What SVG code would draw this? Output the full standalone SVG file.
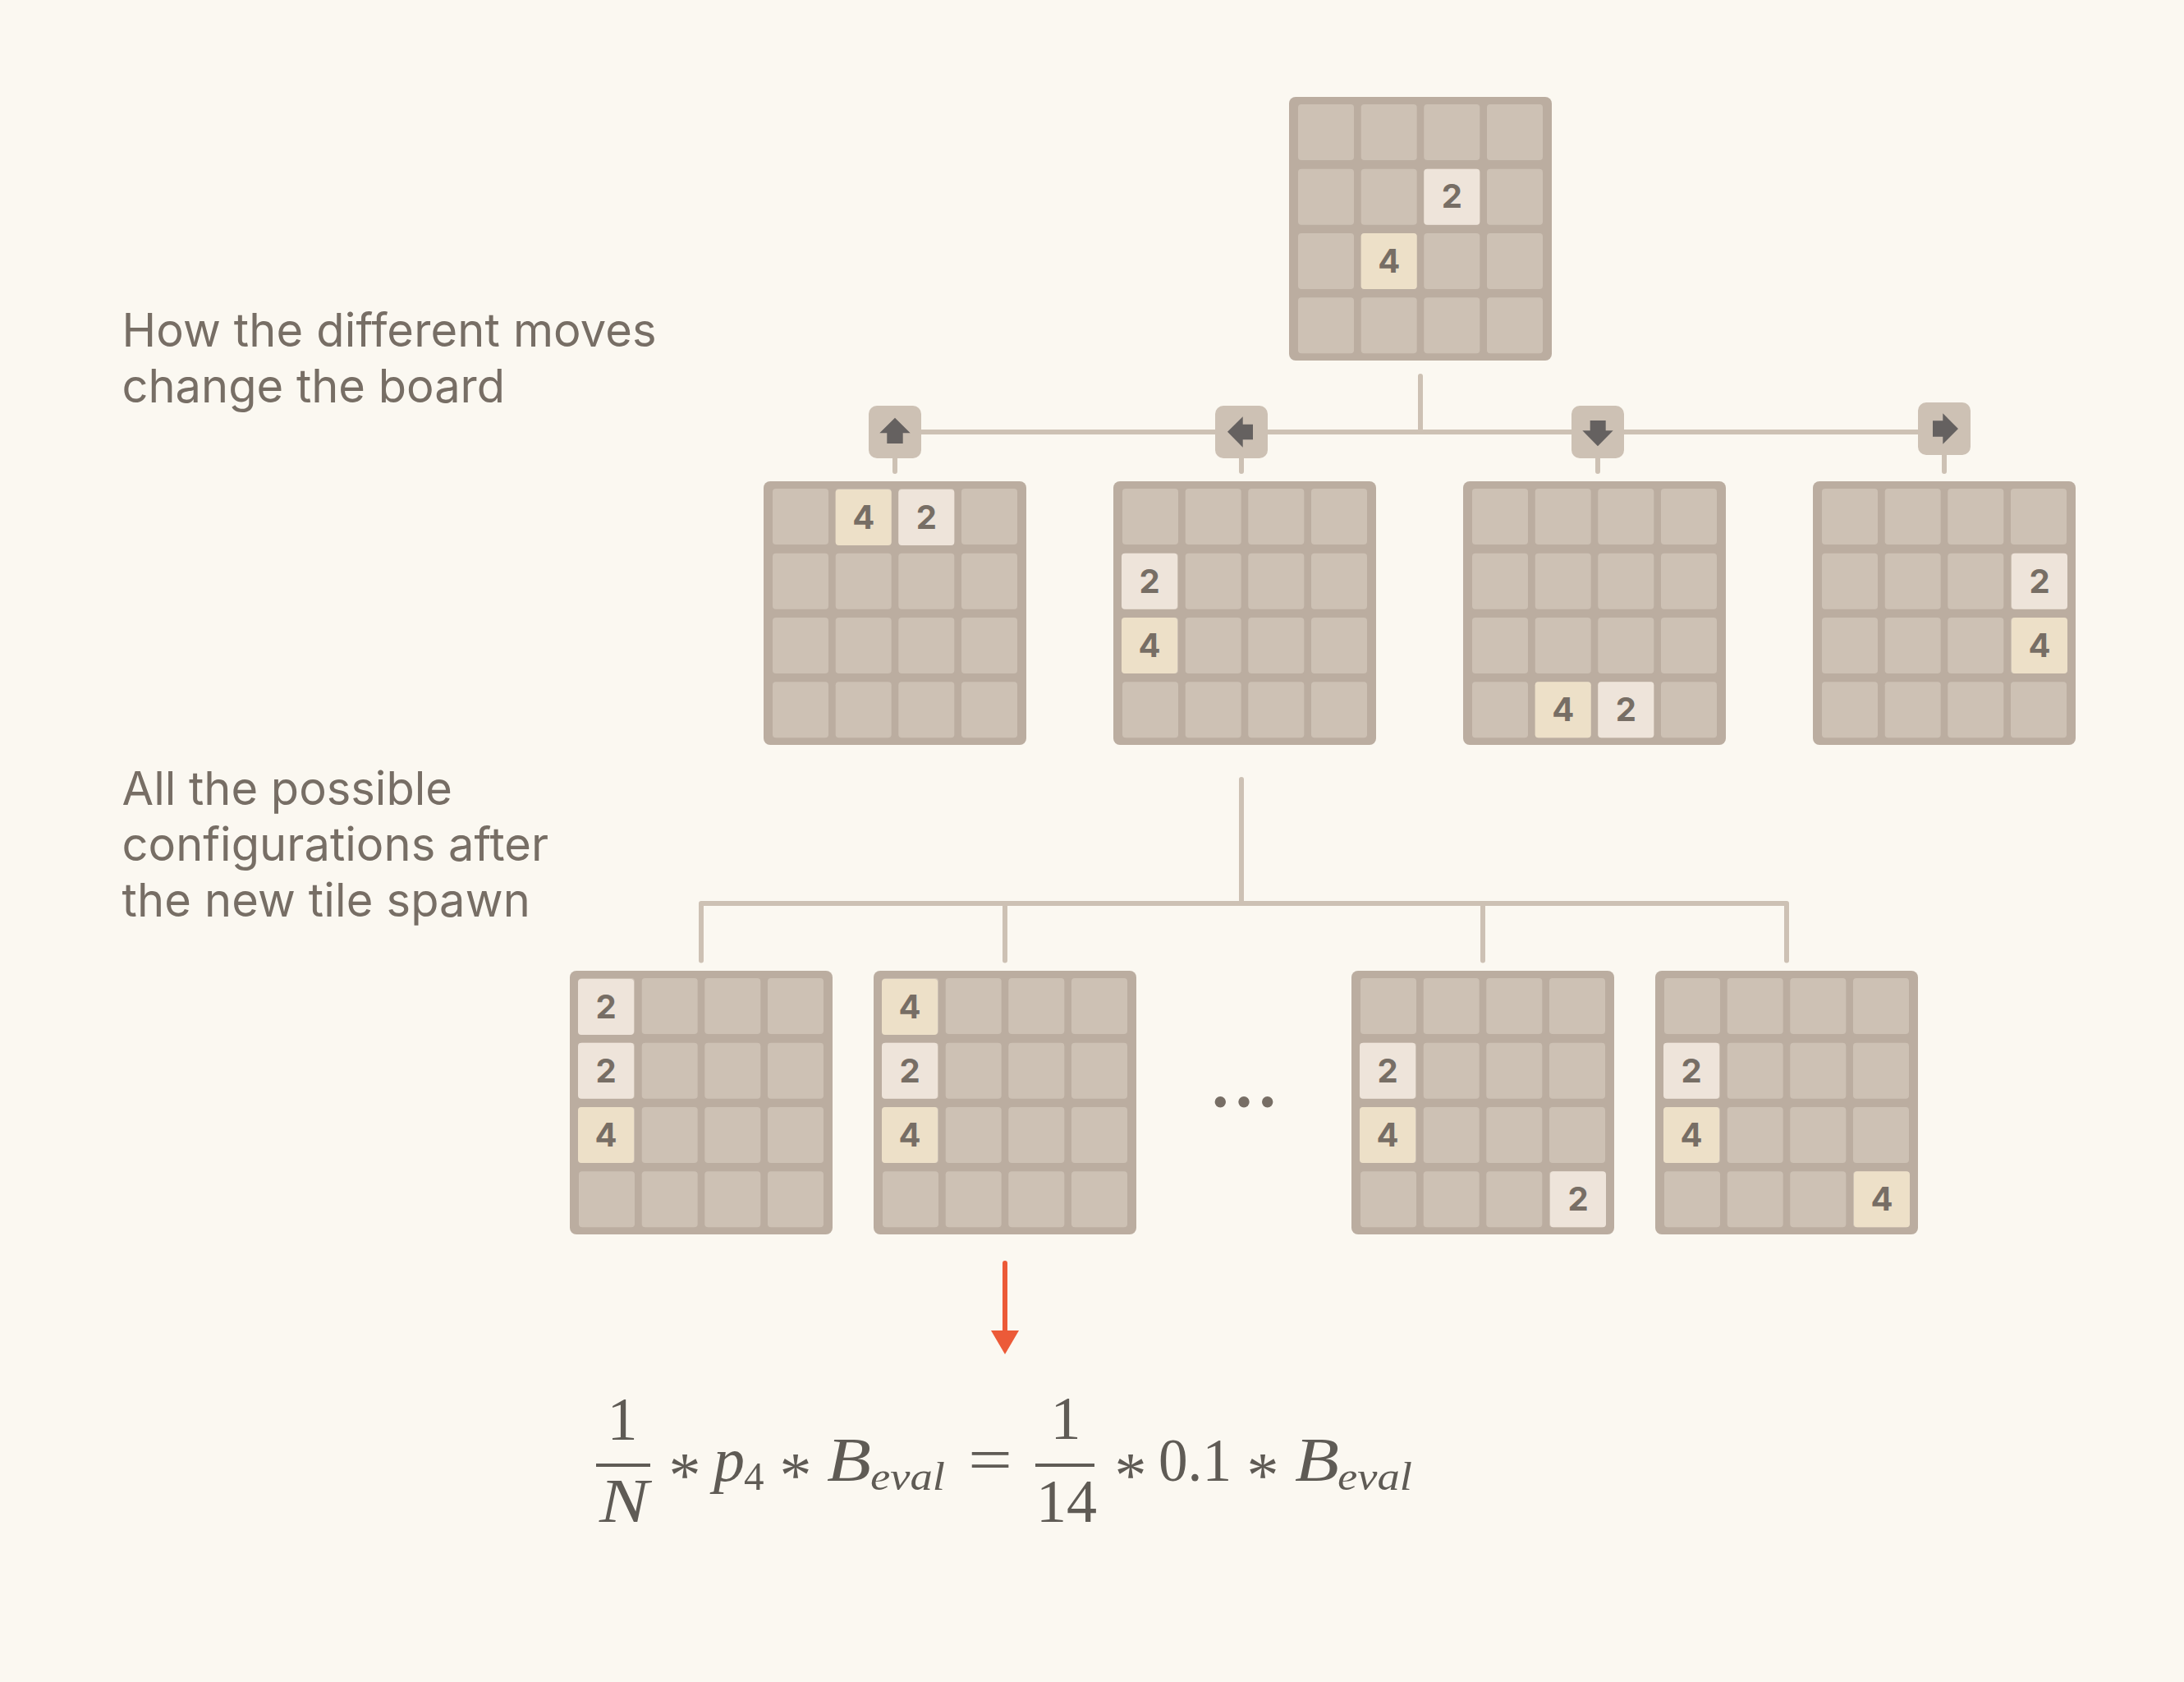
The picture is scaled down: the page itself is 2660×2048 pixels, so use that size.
<svg xmlns="http://www.w3.org/2000/svg" width="2660" height="2048" viewBox="0 0 2660 2048">
<style>
.board{fill:#bbada0}
.cell{fill:#cdc1b4}
.t2{fill:#eee4da}
.t4{fill:#ede0c8}
.num{font-family:Inter,"Liberation Sans",Arial,sans-serif;font-weight:700;font-size:40px;fill:#776e65;text-anchor:middle}
.cap{font-family:Inter,"Liberation Sans",sans-serif;font-size:56px;fill:#776e65}
.con{stroke:#cdc1b4;stroke-width:6;fill:none;stroke-linecap:round;stroke-linejoin:round}
.icon{fill:#cdc1b4}
.glyph{fill:#656160}
.m{font-family:"Liberation Serif","Times New Roman",serif;fill:#5f5b55}
.mi{font-style:italic}
.ast{font-size:78px;text-anchor:middle}
</style>
<defs>
<g id="b">
<rect class="board" width="320" height="321" rx="8"/>
<g class="cell">
<rect x="11" y="9" width="68" height="68" rx="4"/><rect x="87.7" y="9" width="68" height="68" rx="4"/><rect x="164.3" y="9" width="68" height="68" rx="4"/><rect x="241" y="9" width="68" height="68" rx="4"/>
<rect x="11" y="87.7" width="68" height="68" rx="4"/><rect x="87.7" y="87.7" width="68" height="68" rx="4"/><rect x="164.3" y="87.7" width="68" height="68" rx="4"/><rect x="241" y="87.7" width="68" height="68" rx="4"/>
<rect x="11" y="166" width="68" height="68" rx="4"/><rect x="87.7" y="166" width="68" height="68" rx="4"/><rect x="164.3" y="166" width="68" height="68" rx="4"/><rect x="241" y="166" width="68" height="68" rx="4"/>
<rect x="11" y="244.3" width="68" height="68" rx="4"/><rect x="87.7" y="244.3" width="68" height="68" rx="4"/><rect x="164.3" y="244.3" width="68" height="68" rx="4"/><rect x="241" y="244.3" width="68" height="68" rx="4"/>
</g>
</g>
<rect id="r2" class="t2" width="68" height="68" rx="4"/>
<rect id="r4" class="t4" width="68" height="68" rx="4"/>
</defs>
<rect width="2660" height="2048" fill="#fbf8f1"/>
<text class="cap" x="148.5" y="422" letter-spacing=".15">How the different moves</text>
<text class="cap" x="148.5" y="490">change the board</text>
<text class="cap" x="148.5" y="980">All the possible</text>
<text class="cap" x="148.5" y="1048" letter-spacing=".05">configurations after</text>
<text class="cap" x="148.5" y="1116" letter-spacing=".15">the new tile spawn</text>
<g id="connectors">
<path class="con" d="M1730 458V526M1122 526H2336M1090 558V574M1512 558V574M1946 558V574M2368 554V574"/>
<path class="con" d="M1512 949V1100M854 1169.500V1100H2176V1169.500M1224 1100V1169.500M1806 1100V1169.500"/>
<path d="M1224 1538V1625" stroke="#ec5a38" stroke-width="6" stroke-linecap="round" fill="none"/>
<path d="M1207 1620H1241L1224 1649Z" fill="#ec5a38"/>
</g>
<g id="root" transform="translate(1570 118)"><use href="#b"/><use href="#r2" x="164.3" y="87.7"/><text class="num" x="198.3" y="135">2</text><use href="#r4" x="87.7" y="166"/><text class="num" x="121.7" y="213.700">4</text></g>
<g id="icon-up"><rect class="icon" x="1058" y="494" width="64" height="64" rx="10"/><path class="glyph" d="M1090 508.700L1108.700 527.300H1099.700V540H1080.300V527.300H1071.300Z"/></g>
<g id="icon-left"><rect class="icon" x="1480" y="494" width="64" height="64" rx="10"/><path class="glyph" d="M1495 525.700L1513.700 507.300V516.700H1526V535.300H1513.700V544.700Z"/></g>
<g id="icon-down"><rect class="icon" x="1914" y="494" width="64" height="64" rx="10"/><path class="glyph" d="M1946 543.300L1927.300 524.300H1936.700V512H1955.700V524.300H1964.700Z"/></g>
<g id="icon-right"><rect class="icon" x="2336" y="490" width="64" height="64" rx="10"/><path class="glyph" d="M2385 522L2366.300 503.300V512.300H2354V531.700H2366.300V540.700Z"/></g>
<g id="up" transform="translate(930 586)"><use href="#b"/><use href="#r4" x="87.700" y="10"/><text class="num" x="121.700" y="57.500">4</text><use href="#r2" x="164.300" y="10"/><text class="num" x="198.300" y="57.500">2</text></g>
<g id="left" transform="translate(1356 586)"><use href="#b"/><use href="#r2" x="10" y="87.700"/><text class="num" x="44" y="135.500">2</text><use href="#r4" x="10" y="166"/><text class="num" x="44" y="213.700">4</text></g>
<g id="down" transform="translate(1782 586)"><use href="#b"/><use href="#r4" x="87.700" y="244.300"/><text class="num" x="121.700" y="292">4</text><use href="#r2" x="164.300" y="244.300"/><text class="num" x="198.300" y="292">2</text></g>
<g id="right" transform="translate(2208 586)"><use href="#b"/><use href="#r2" x="242" y="87.700"/><text class="num" x="276" y="135.500">2</text><use href="#r4" x="242" y="166"/><text class="num" x="276" y="213.700">4</text></g>
<g id="c1" transform="translate(694 1182)"><use href="#b"/><use href="#r2" x="10" y="10"/><text class="num" x="44" y="57.500">2</text><use href="#r2" x="10" y="87.700"/><text class="num" x="44" y="135.500">2</text><use href="#r4" x="10" y="166"/><text class="num" x="44" y="213.700">4</text></g>
<g id="c2" transform="translate(1064 1182)"><use href="#b"/><use href="#r4" x="10" y="10"/><text class="num" x="44" y="57.500">4</text><use href="#r2" x="10" y="87.700"/><text class="num" x="44" y="135.500">2</text><use href="#r4" x="10" y="166"/><text class="num" x="44" y="213.700">4</text></g>
<g id="c3" transform="translate(1646 1182)"><use href="#b"/><use href="#r2" x="10" y="87.700"/><text class="num" x="44" y="135.500">2</text><use href="#r4" x="10" y="166"/><text class="num" x="44" y="213.700">4</text><use href="#r2" x="242" y="244.300"/><text class="num" x="276" y="292">2</text></g>
<g id="c4" transform="translate(2016 1182)"><use href="#b"/><use href="#r2" x="10" y="87.700"/><text class="num" x="44" y="135.500">2</text><use href="#r4" x="10" y="166"/><text class="num" x="44" y="213.700">4</text><use href="#r4" x="242" y="244.300"/><text class="num" x="276" y="292">4</text></g>
<g id="dots" fill="#776e65"><circle cx="1486.300" cy="1341.700" r="6.700"/><circle cx="1515" cy="1341.700" r="6.700"/><circle cx="1543.700" cy="1341.700" r="6.700"/></g>
<g id="formula">
<rect x="726" y="1782" width="66" height="4" fill="#5f5b55"/>
<rect x="1261" y="1782" width="72" height="4" fill="#5f5b55"/>
<text class="m" x="758" y="1753" font-size="74" text-anchor="middle">1</text>
<text class="m mi" x="730" y="1853" font-size="76" textLength="60" lengthAdjust="spacingAndGlyphs">N</text>
<text class="m ast" x="834" y="1822">*</text>
<text class="m mi" x="869" y="1803" font-size="76">p</text>
<text class="m" x="906" y="1814" font-size="49">4</text>
<text class="m ast" x="969" y="1822">*</text>
<text class="m mi" x="1007" y="1803" font-size="76" textLength="54" lengthAdjust="spacingAndGlyphs">B</text>
<text class="m mi" x="1060" y="1814" font-size="48" textLength="91" lengthAdjust="spacingAndGlyphs">eval</text>
<text class="m" x="1179" y="1803" font-size="76" textLength="54" lengthAdjust="spacingAndGlyphs">=</text>
<text class="m" x="1298" y="1752" font-size="74" text-anchor="middle">1</text>
<text class="m" x="1299" y="1853" font-size="74" text-anchor="middle">14</text>
<text class="m ast" x="1377" y="1822">*</text>
<text class="m" x="1411" y="1803" font-size="74" textLength="89" lengthAdjust="spacingAndGlyphs">0.1</text>
<text class="m ast" x="1538" y="1822">*</text>
<text class="m mi" x="1577" y="1803" font-size="76" textLength="54" lengthAdjust="spacingAndGlyphs">B</text>
<text class="m mi" x="1629" y="1814" font-size="48" textLength="91" lengthAdjust="spacingAndGlyphs">eval</text>
</g>
</svg>
